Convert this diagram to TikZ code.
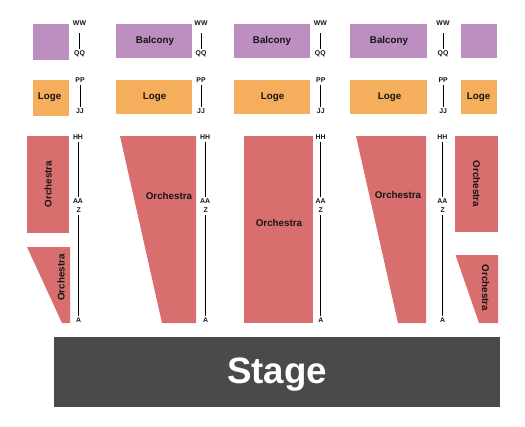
\documentclass[tikz,border=0pt]{standalone}
\usepackage{fontspec}
\setmainfont{Liberation Sans}
\definecolor{balc}{HTML}{BC8FC0}
\definecolor{loge}{HTML}{F5AE5B}
\definecolor{orch}{HTML}{D86E6E}
\definecolor{stagec}{HTML}{4A4A4A}
\definecolor{ink}{HTML}{151515}
\tikzset{
  seclabel/.style={font=\fontsize{9.8}{10}\selectfont\bfseries,text=ink,inner sep=0pt},
  rowlabel/.style={font=\fontsize{6.9}{7}\selectfont\bfseries,text=ink,inner sep=1.5pt},
  rowline/.style={draw=black,line width=1pt},
  balcony/.style={fill=balc},
  logesec/.style={fill=loge},
  orchsec/.style={fill=orch}
}
\begin{document}
\begin{tikzpicture}[x=1pt,y=-1pt]
\useasboundingbox (0,0) rectangle (525,426);
% Balcony
\fill[balcony] (33,24) rectangle (69,60);
\fill[balcony] (116,24) rectangle (192,58);
\fill[balcony] (234,24) rectangle (310,58);
\fill[balcony] (350,24) rectangle (427,58);
\fill[balcony] (461,24) rectangle (497,58);
% Loge
\fill[logesec] (33,80) rectangle (69,116);
\fill[logesec] (116,80) rectangle (192,114);
\fill[logesec] (234,80) rectangle (310,114);
\fill[logesec] (350,80) rectangle (427,114);
\fill[logesec] (461,80) rectangle (497,114);
% Orchestra
\fill[orchsec] (27,136) rectangle (69,233);
\fill[orchsec] (27,247) -- (70,247) -- (70,323) -- (62,323) -- cycle;
\fill[orchsec] (120,136) -- (196,136) -- (196,323) -- (162,323) -- cycle;
\fill[orchsec] (244,136) rectangle (313,323);
\fill[orchsec] (356,136) -- (426,136) -- (426,323) -- (398,323) -- cycle;
\fill[orchsec] (455,136) rectangle (498,232);
\fill[orchsec] (455.5,255) -- (498,255) -- (498,323) -- (479,323) -- cycle;
% Stage
\fill[stagec] (54,337) rectangle (500,407);
\node[inner sep=0pt,text=white,font=\fontsize{36.7}{38}\selectfont\bfseries] (stage) at (277,374.5) {Stage};
% Section labels
\node[seclabel] (b2) at (155,41) {Balcony};
\node[seclabel] (b3) at (272,41) {Balcony};
\node[seclabel] (b4) at (389,41) {Balcony};
\node[seclabel] (l1) at (49.5,97) {Loge};
\node[seclabel] (l2) at (154.5,97) {Loge};
\node[seclabel] (l3) at (272.5,97) {Loge};
\node[seclabel] (l4) at (389.5,97) {Loge};
\node[seclabel] (l5) at (478.5,97) {Loge};
\node[seclabel,rotate=90] (o1) at (48,184) {Orchestra};
\node[seclabel,rotate=90] (o2) at (61,277.5) {Orchestra};
\node[seclabel] (o3) at (169,195.5) {Orchestra};
\node[seclabel] (o4) at (279,222.5) {Orchestra};
\node[seclabel] (o5) at (398,194.5) {Orchestra};
\node[seclabel,rotate=-90] (o6) at (476.5,184) {Orchestra};
\node[seclabel,rotate=-90] (o7) at (485.5,288) {Orchestra};
% Row labels, column 1
\node[rowlabel] (ww1) at (79.5,23.5) {WW};
\node[rowlabel] (qq1) at (79.5,53.5) {QQ};
\node[rowlabel] (pp1) at (80,80.5) {PP};
\node[rowlabel] (jj1) at (80,111.5) {JJ};
\node[rowlabel] (hh1) at (78,137.5) {HH};
\node[rowlabel] (aa1) at (78,201.5) {AA};
\node[rowlabel] (z1) at (78.7,210.5) {Z};
\node[rowlabel] (a1) at (78.7,320.5) {A};
% column 2
\node[rowlabel] (ww2) at (201,23.5) {WW};
\node[rowlabel] (qq2) at (201,53.5) {QQ};
\node[rowlabel] (pp2) at (201,80.5) {PP};
\node[rowlabel] (jj2) at (201,111.5) {JJ};
\node[rowlabel] (hh2) at (205,137.5) {HH};
\node[rowlabel] (aa2) at (205,201.5) {AA};
\node[rowlabel] (z2) at (205.7,210.5) {Z};
\node[rowlabel] (a2) at (205.7,320.5) {A};
% column 3
\node[rowlabel] (ww3) at (320.3,23.5) {WW};
\node[rowlabel] (qq3) at (320.3,53.5) {QQ};
\node[rowlabel] (pp3) at (320.8,80.5) {PP};
\node[rowlabel] (jj3) at (320.8,111.5) {JJ};
\node[rowlabel] (hh3) at (320.5,137.5) {HH};
\node[rowlabel] (aa3) at (320.5,201.5) {AA};
\node[rowlabel] (z3) at (320.8,210.5) {Z};
\node[rowlabel] (a3) at (320.8,320.5) {A};
% column 4
\node[rowlabel] (ww4) at (443,23.5) {WW};
\node[rowlabel] (qq4) at (443,53.5) {QQ};
\node[rowlabel] (pp4) at (443.2,80.5) {PP};
\node[rowlabel] (jj4) at (443.2,111.5) {JJ};
\node[rowlabel] (hh4) at (442.3,137.5) {HH};
\node[rowlabel] (aa4) at (442.3,201.5) {AA};
\node[rowlabel] (z4) at (442.7,210.5) {Z};
\node[rowlabel] (a4) at (442.7,320.5) {A};
% Connectors
\foreach \c in {1,2,3,4}{
  \draw[rowline,shorten <=5.5pt] (ww\c) -- (qq\c);
  \draw[rowline] (pp\c) -- (jj\c);
  \draw[rowline] (hh\c) -- (aa\c);
  \draw[rowline] (z\c) -- (a\c);
}
\end{tikzpicture}
\end{document}
